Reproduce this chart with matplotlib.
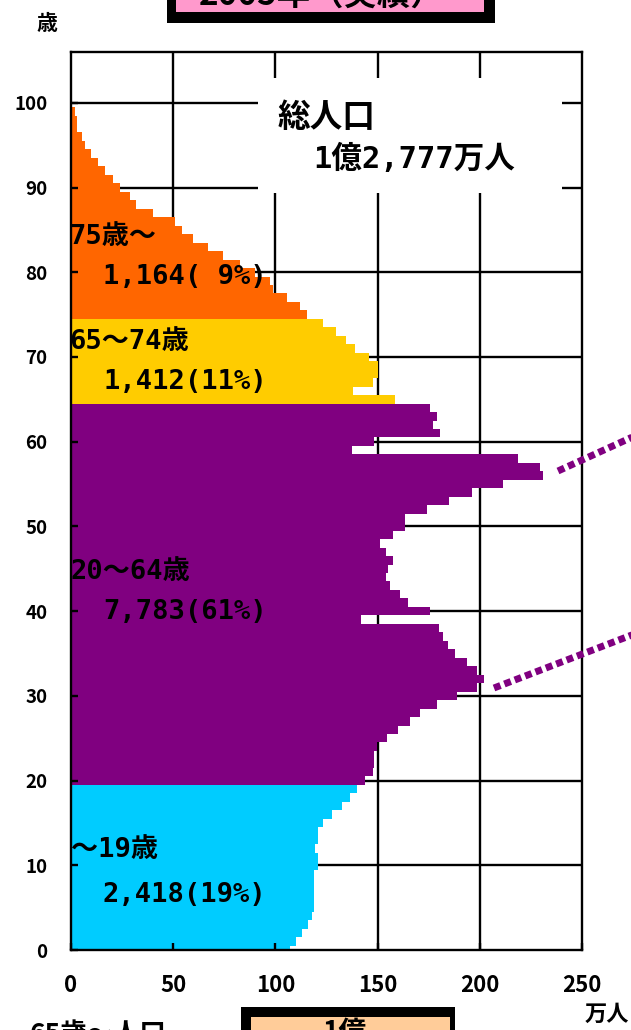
import matplotlib
matplotlib.use('Agg')
import matplotlib.pyplot as plt
from matplotlib.patches import Rectangle
from matplotlib.lines import Line2D

plt.rcParams['font.family'] = ['Noto Sans CJK JP', 'DejaVu Sans']
plt.rcParams['font.weight'] = 'bold'

# ---------------- data (万人, by single year of age) ----------------
ages_0_19 = list(range(0, 20))
pop_0_19 = [107, 110, 113, 116, 117.7, 118.9, 118.9, 118.9, 118.9, 118.9,
            121, 121, 119.4, 121, 121, 123.4, 127.5, 132.4, 136.5, 139.8]

ages_20_64 = list(range(20, 65))
pop_20_64 = [143.8, 147.9, 148, 148, 149.6, 154.6, 160, 165.8, 170.7, 178.9,
             188.7, 198.5, 202, 198.5, 193.6, 187.9, 184.6, 182.2, 180.2, 141.9,
             175.6, 165, 161, 156, 154, 155.3, 157.4, 154, 151, 157.5,
             163.4, 163.4, 174, 185, 196, 211.5, 230.7, 229.5, 218.8, 137.3,
             148, 180.5, 177, 179, 175.6]

ages_65_74 = list(range(65, 75))
pop_65_74 = [158.5, 138, 147.6, 150.4, 150.4, 146, 139, 134.5, 129.6, 123.4]

ages_75_99 = list(range(75, 100))
pop_75_99 = [115.3, 112, 105.5, 99, 97.4, 90, 82.7, 74.5, 67.2, 59.8,
             54.2, 50.9, 40, 32, 28.9, 24, 20.7, 16.6, 13.4, 10,
             6.8, 5.2, 2.8, 2.8, 2]

group_names = ['～19歳', '20～64歳', '65～74歳', '75歳～']
group_values = ['2,418(19%)', '7,783(61%)', '1,412(11%)', '1,164( 9%)']
total_label = ['総人口', '1億2,777万人']
title_label = '2005年（実績）'

x_ticks = [0, 50, 100, 150, 200, 250]
y_ticks = list(range(0, 101, 10))

colors = ['#00CCFF', '#800080', '#FFCC00', '#FF6600']

# ---------------- figure ----------------
W, H = 631, 1030
fig = plt.figure(figsize=(W / 100, H / 100), dpi=100)


def fx(x):
    return x / W


def fy(y):
    return 1 - y / H


ax = fig.add_axes([fx(71), fy(950), fx(582) - fx(71), fy(52) - fy(950)])

for a, v, c in [(ages_0_19, pop_0_19, colors[0]),
                (ages_20_64, pop_20_64, colors[1]),
                (ages_65_74, pop_65_74, colors[2]),
                (ages_75_99, pop_75_99, colors[3])]:
    ax.barh(a, v, height=1.0, color=c, linewidth=0, zorder=1)

for x in x_ticks[1:-1]:
    ax.axvline(x, color='black', lw=1.7, zorder=0.5)
for y in y_ticks[1:]:
    ax.axhline(y, color='black', lw=1.7, zorder=0.5)

# white box behind total label (hides grid)
ax.add_artist(Rectangle((fx(258), fy(193)), fx(562) - fx(258), fy(78) - fy(193),
                        transform=fig.transFigure, facecolor='white',
                        edgecolor='none', zorder=0.8, clip_on=False))

ax.set_xlim(0, 250)
ax.set_ylim(0, 106)
ax.set_xticks(x_ticks)
ax.set_yticks(y_ticks)
ax.set_axisbelow(False)
for s in ax.spines.values():
    s.set_linewidth(1.7)
    s.set_color('black')
    s.set_zorder(3)
ax.tick_params(axis='x', direction='in', length=5, width=1.7, pad=17, labelsize=16)
ax.tick_params(axis='y', direction='in', length=5, width=1.7, pad=17, labelsize=13.5)
for lab in ax.get_xticklabels() + ax.get_yticklabels():
    lab.set_fontweight('bold')

# ---------------- texts ----------------
mono = ['DejaVu Sans Mono', 'Noto Sans CJK JP']
lab_fs = 19.5
label_pos = [((71, 850), (103, 895)),
             ((70, 572), (103, 612)),
             ((69, 342), (103, 382)),
             ((69, 237), (103, 277))]
for name, val, (p1, p2) in zip(group_names, group_values, label_pos):
    fig.text(fx(p1[0]), fy(p1[1]), name, family=mono, fontsize=lab_fs,
             fontweight='bold', ha='left', va='center', zorder=5)
    fig.text(fx(p2[0]), fy(p2[1]), val, family=mono, fontsize=lab_fs,
             fontweight='bold', ha='left', va='center', zorder=5)

fig.text(fx(278), fy(117), total_label[0], family=mono, fontsize=23.5,
         fontweight='bold', ha='left', va='center', zorder=5)
fig.text(fx(313), fy(159), total_label[1], family=mono, fontsize=22,
         fontweight='bold', ha='left', va='center', zorder=5)

fig.text(fx(47), fy(24), '歳', fontsize=15, fontweight='bold', ha='center', va='center')
fig.text(fx(607), fy(1014), '万人', fontsize=16, fontweight='bold', ha='center', va='center')

# title box clipped at top
fig.add_artist(Rectangle((fx(167), fy(23)), fx(495) - fx(167), fy(-40) - fy(23),
                         transform=fig.transFigure, facecolor='black', edgecolor='none'))
fig.add_artist(Rectangle((fx(176), fy(12)), fx(484) - fx(176), fy(-40) - fy(12),
                         transform=fig.transFigure, facecolor='#FF99CC', edgecolor='none'))
fig.text(fx(322), fy(6), title_label, fontsize=24, fontweight='bold',
         ha='center', va='baseline')

# bottom box clipped at bottom
fig.add_artist(Rectangle((fx(241), fy(1060)), fx(455) - fx(241), fy(1007) - fy(1060),
                         transform=fig.transFigure, facecolor='black', edgecolor='none'))
fig.add_artist(Rectangle((fx(251), fy(1060)), fx(450) - fx(251), fy(1017) - fy(1060),
                         transform=fig.transFigure, facecolor='#FFCC99', edgecolor='none'))
fig.text(fx(323), fy(1019), '1億', fontsize=20, fontweight='bold', ha='left', va='top')
fig.text(fx(30), fy(1021), '65歳～人口', fontsize=19, fontweight='bold', ha='left', va='top')

# dotted pointer lines
for (x0, y0), (x1, y1) in [((558, 471), (650, 429)), ((494, 688), (650, 628))]:
    fig.add_artist(Line2D([fx(x0), fx(x1)], [fy(y0), fy(y1)], transform=fig.transFigure,
                          color='#800080', lw=5, linestyle=(0, (1, 0.6)),
                          dash_capstyle='butt'))

fig.savefig('out.png', dpi=100)
